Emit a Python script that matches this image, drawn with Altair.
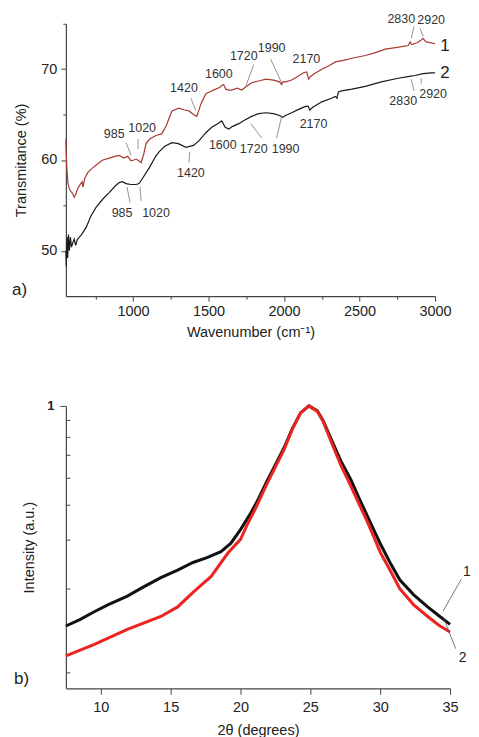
import altair as alt
import pandas as pd

# ---------------- (a) FTIR spectra ----------------
ftir_w1 = [555, 558, 562, 568, 578, 590, 600, 610, 622, 635, 650, 662, 668, 680, 700, 730, 760, 800, 842, 880,
           908, 940, 965, 987, 1005, 1020, 1040, 1053, 1070, 1086, 1110, 1152, 1191, 1220, 1257, 1304, 1340, 1370,
           1400, 1422, 1450, 1482, 1520, 1548, 1575, 1587, 1600, 1614, 1635, 1653, 1690, 1719, 1750, 1785, 1832,
           1880, 1930, 1970, 1984, 1992, 2010, 2050, 2090, 2129, 2150, 2162, 2175, 2200, 2250, 2300, 2340, 2400,
           2450, 2538, 2600, 2670, 2750, 2822, 2835, 2845, 2880, 2908, 2920, 2940, 2974, 3000]
ftir_t1 = [62.3, 60.5, 59.0, 57.5, 56.8, 56.5, 56.3, 55.9, 56.3, 56.9, 57.3, 57.6, 57.0, 58.0, 58.6, 59.1, 59.5,
           60.0, 60.2, 60.4, 60.5, 60.2, 60.4, 59.9, 60.0, 60.1, 59.9, 59.7, 60.6, 61.8, 62.3, 62.7, 62.9, 63.8,
           65.4, 65.7, 65.5, 65.4, 65.0, 64.8, 66.2, 67.3, 67.6, 67.8, 68.0, 68.2, 68.3, 67.8, 67.7, 67.7, 67.9,
           67.7, 68.1, 68.5, 68.7, 68.9, 68.8, 68.6, 68.3, 68.6, 68.6, 68.8, 69.2, 69.6, 69.7, 68.9, 69.2, 69.5,
           70.0, 70.4, 70.8, 71.0, 71.2, 71.5, 71.8, 72.2, 72.4, 72.6, 73.0, 72.7, 72.9, 73.2, 73.4, 73.0, 72.9, 72.8]

ftir_w2 = [555, 558, 562, 567, 572, 578, 585, 592, 600, 610, 620, 630, 644, 660, 690, 720, 756, 800, 842, 880,
           908, 930, 954, 985, 1020, 1040, 1060, 1106, 1150, 1172, 1210, 1257, 1300, 1350, 1400, 1436, 1482, 1521,
           1560, 1587, 1610, 1634, 1660, 1700, 1740, 1785, 1832, 1880, 1930, 1970, 1990, 2010, 2050, 2100, 2142,
           2160, 2170, 2190, 2250, 2314, 2340, 2350, 2360, 2380, 2450, 2538, 2644, 2756, 2830, 2868, 2920, 2974, 3000]
ftir_t2 = [50.0, 48.3, 51.5, 49.2, 51.8, 50.0, 51.5, 50.4, 50.8, 51.3, 50.6, 51.2, 51.5, 51.8, 52.6, 53.8, 54.8,
           55.7, 56.4, 57.1, 57.5, 57.6, 57.4, 57.3, 57.3, 57.4, 57.9, 59.1, 60.4, 60.9, 61.5, 61.9, 61.8, 61.4,
           61.6, 62.1, 63.0, 63.6, 64.0, 64.3, 63.6, 63.4, 63.7, 64.0, 64.4, 64.8, 65.1, 65.2, 65.1, 64.9, 64.7,
           64.9, 65.2, 65.6, 65.9, 65.9, 65.5, 65.8, 66.4, 66.8, 67.0, 66.8, 67.5, 67.6, 67.8, 68.1, 68.6, 69.0,
           69.2, 69.3, 69.5, 69.6, 69.6]

# peak labels of panel (a)
ann_a_text = ["985", "1020", "1420", "1600", "1720", "1990", "2170", "2830", "2920",
              "985", "1020", "1420", "1600", "1720", "1990", "2170", "2830", "2920"]
ann_a_w = [875, 1060, 1337, 1568, 1733, 1918, 2148, 2776, 2974,
           927, 1152, 1383, 1594, 1799, 2010, 2195, 2789, 2987]
ann_a_t = [62.9, 63.5, 67.9, 69.5, 71.4, 72.3, 71.1, 75.5, 75.4,
           54.2, 54.2, 58.6, 61.6, 61.2, 61.2, 64.0, 66.5, 67.3]

# leader lines of panel (a)
lead_a_w1 = [954, 1033, 1383, 1799, 1911, 2861, 2901, 980, 1053, 1370, 1852, 1950, 2861, 2908]
lead_a_t1 = [61.9, 62.3, 66.8, 70.5, 71.1, 74.7, 74.5, 55.3, 55.5, 59.7, 62.4, 62.4, 67.6, 68.4]
lead_a_w2 = [987, 1033, 1416, 1746, 1984, 2842, 2921, 960, 1046, 1376, 1779, 1984, 2842, 2908]
lead_a_t2 = [60.5, 61.2, 65.4, 68.1, 68.5, 73.4, 73.6, 57.0, 57.0, 60.9, 64.0, 64.8, 68.9, 69.0]

series_a_text = ["1", "2"]
series_a_w = [3066, 3066]
series_a_t = [72.5, 69.6]

# ---------------- (b) XRD patterns ----------------
xrd_x1 = [7.5, 8.5, 9.5, 10.5, 11.9, 13.0, 14.3, 15.5, 16.6, 17.6, 18.6, 19.3, 20.0, 20.7, 21.3, 21.9, 22.5, 23.1,
          23.7, 24.3, 24.9, 25.5, 25.9, 26.6, 27.2, 27.9, 28.5, 29.1, 29.6, 30.0, 30.7, 31.4, 32.4, 33.4, 34.2, 35.0]
xrd_i1 = [0.247, 0.255, 0.265, 0.275, 0.288, 0.302, 0.319, 0.333, 0.348, 0.358, 0.371, 0.390, 0.425, 0.470, 0.520,
          0.585, 0.655, 0.735, 0.845, 0.950, 1.000, 0.965, 0.900, 0.765, 0.670, 0.590, 0.520, 0.462, 0.420, 0.390,
          0.348, 0.315, 0.290, 0.272, 0.260, 0.249]

xrd_x2 = [7.5, 9.5, 11.9, 14.3, 15.5, 16.6, 17.9, 19.1, 20.0, 20.5, 21.0, 21.9, 22.5, 23.1, 23.7, 24.3, 24.9, 25.5,
          25.9, 26.6, 27.2, 27.9, 28.5, 29.1, 29.5, 30.0, 30.7, 31.4, 32.4, 33.4, 34.2, 35.0]
xrd_i2 = [0.215, 0.226, 0.243, 0.259, 0.272, 0.294, 0.321, 0.368, 0.400, 0.440, 0.480, 0.575, 0.645, 0.725, 0.840,
          0.950, 1.000, 0.960, 0.895, 0.750, 0.650, 0.565, 0.500, 0.445, 0.410, 0.370, 0.333, 0.300, 0.275, 0.259,
          0.248, 0.240]

series_b_text = ["1", "2"]
series_b_x = [36.2, 35.9]
series_b_i = [0.329, 0.213]
lead_b_x1 = [34.5, 34.5]
lead_b_i1 = [0.266, 0.259]
lead_b_x2 = [35.8, 35.4]
lead_b_i2 = [0.316, 0.222]

FONT = "Liberation Sans"
GREY = "#333333"

# ---------- panel (a) ----------
df_a = pd.concat([
    pd.DataFrame({"w": ftir_w1, "t": ftir_t1, "s": "1"}),
    pd.DataFrame({"w": ftir_w2, "t": ftir_t2, "s": "2"}),
])
xa = alt.Scale(domain=[555, 3000], nice=False, zero=False)
ya = alt.Scale(domain=[45, 75], nice=False, zero=False)

x_axis_a = alt.Axis(values=list(range(750, 3001, 250)), format="d", labelFlush=False,
                    tickSize={"expr": "datum.value % 500 === 0 ? 5 : 3"},
                    labelExpr="datum.value % 500 === 0 ? datum.label : ''",
                    title="Wavenumber (cm⁻¹)", labelPadding=3, titlePadding=8)
y_axis_a = alt.Axis(values=[50, 55, 60, 65, 70, 75], format="d",
                    tickSize={"expr": "datum.value % 10 === 0 ? 5 : 3"},
                    labelExpr="datum.value % 10 === 0 ? datum.label : ''",
                    title="Transmitance (%)", labelPadding=4, titlePadding=12)

lines_a = alt.Chart(df_a).mark_line(strokeWidth=1.2).encode(
    x=alt.X("w:Q", scale=xa, axis=x_axis_a),
    y=alt.Y("t:Q", scale=ya, axis=y_axis_a),
    color=alt.Color("s:N", scale=alt.Scale(domain=["1", "2"], range=["#a83a32", "#1a1a1a"]), legend=None),
)
df_lead_a = pd.DataFrame({"w1": lead_a_w1, "t1": lead_a_t1, "w2": lead_a_w2, "t2": lead_a_t2})
lead_a = alt.Chart(df_lead_a).mark_rule(color="#777777", strokeWidth=0.8).encode(
    x=alt.X("w1:Q", scale=xa), y=alt.Y("t1:Q", scale=ya), x2="w2:Q", y2="t2:Q")
df_ann_a = pd.DataFrame({"txt": ann_a_text, "w": ann_a_w, "t": ann_a_t})
text_a = alt.Chart(df_ann_a).mark_text(font=FONT, fontSize=12.5, color=GREY).encode(
    x=alt.X("w:Q", scale=xa), y=alt.Y("t:Q", scale=ya), text="txt:N")
df_ser_a = pd.DataFrame({"txt": series_a_text, "w": series_a_w, "t": series_a_t})
ser_a = alt.Chart(df_ser_a).mark_text(font=FONT, fontSize=17, color="#222222").encode(
    x=alt.X("w:Q", scale=xa), y=alt.Y("t:Q", scale=ya), text="txt:N")
lab_a = alt.Chart(pd.DataFrame({"txt": ["a)"]})).mark_text(
    font=FONT, fontSize=17, color="#222222", align="left").encode(
    x=alt.value(-54), y=alt.value(267), text="txt:N")

panel_a = alt.layer(lines_a, lead_a, text_a, ser_a, lab_a).properties(width=370, height=273)

# ---------- panel (b) ----------
df_b = pd.concat([
    pd.DataFrame({"x": xrd_x1, "i": xrd_i1, "k": "1"}),
    pd.DataFrame({"x": xrd_x2, "i": xrd_i2, "k": "2"}),
])
xb = alt.Scale(domain=[7.5, 35], nice=False, zero=False)
yb = alt.Scale(type="log", domain=[0.088, 0.9], nice=False, zero=False)

x_axis_b = alt.Axis(values=[10, 12.5, 15, 17.5, 20, 22.5, 25, 27.5, 30, 32.5, 35], labelFlush=False,
                    tickSize={"expr": "datum.value % 5 === 0 ? 6 : 3"},
                    labelExpr="datum.value % 5 === 0 ? datum.label : ''",
                    title="2θ (degrees)", labelPadding=6, titlePadding=10)
y_axis_b = alt.Axis(values=[0.1, 0.2, 0.3, 0.4, 0.5, 0.6, 0.7, 0.8, 0.9],
                    tickSize={"expr": "datum.value > 0.85 ? 6 : -4"},
                    labelExpr="datum.value > 0.85 ? '1' : ''",
                    title="Intensity (a.u.)", labelPadding=6, titlePadding=10, labelFontWeight="bold",
                    labelFontSize=13)

lines_b = alt.Chart(df_b).transform_calculate(v="datum.i - 0.1").mark_line(strokeWidth=3).encode(
    x=alt.X("x:Q", scale=xb, axis=x_axis_b),
    y=alt.Y("v:Q", scale=yb, axis=y_axis_b),
    color=alt.Color("k:N", scale=alt.Scale(domain=["1", "2"], range=["#111111", "#ec2320"]), legend=None),
    order=alt.Order("x:Q"),
)
df_lead_b = pd.DataFrame({"x1": lead_b_x1, "i1": lead_b_i1, "x2": lead_b_x2, "i2": lead_b_i2})
lead_b = alt.Chart(df_lead_b).transform_calculate(
    v1="datum.i1 - 0.1", v2="datum.i2 - 0.1").mark_rule(color="#555555", strokeWidth=0.8).encode(
    x=alt.X("x1:Q", scale=xb), y=alt.Y("v1:Q", scale=yb), x2="x2:Q", y2="v2:Q")
df_ser_b = pd.DataFrame({"txt": series_b_text, "x": series_b_x, "i": series_b_i})
ser_b = alt.Chart(df_ser_b).transform_calculate(v="datum.i - 0.1").mark_text(
    font=FONT, fontSize=14, color="#222222").encode(
    x=alt.X("x:Q", scale=xb), y=alt.Y("v:Q", scale=yb), text="txt:N")
lab_b = alt.Chart(pd.DataFrame({"txt": ["b)"]})).mark_text(
    font=FONT, fontSize=17, color="#222222", align="left").encode(
    x=alt.value(-52), y=alt.value(274), text="txt:N")

panel_b = alt.layer(lines_b, lead_b, ser_b, lab_b).properties(width=385, height=283)

chart = alt.vconcat(panel_a, panel_b, spacing=61).resolve_scale(color="independent").properties(
    padding={"left": 4, "top": 4, "right": 0, "bottom": 0}
).configure_axis(
    grid=False, domainColor="#444444", tickColor="#444444", domainWidth=1.2, tickWidth=1,
    labelColor="#222222", titleColor="#222222", labelFont=FONT, titleFont=FONT,
    labelFontSize=14.5, titleFontSize=14.5, titleFontWeight="normal",
).configure_view(stroke=None)

chart.save("out.html", embed_options={"renderer": "svg", "actions": False})
